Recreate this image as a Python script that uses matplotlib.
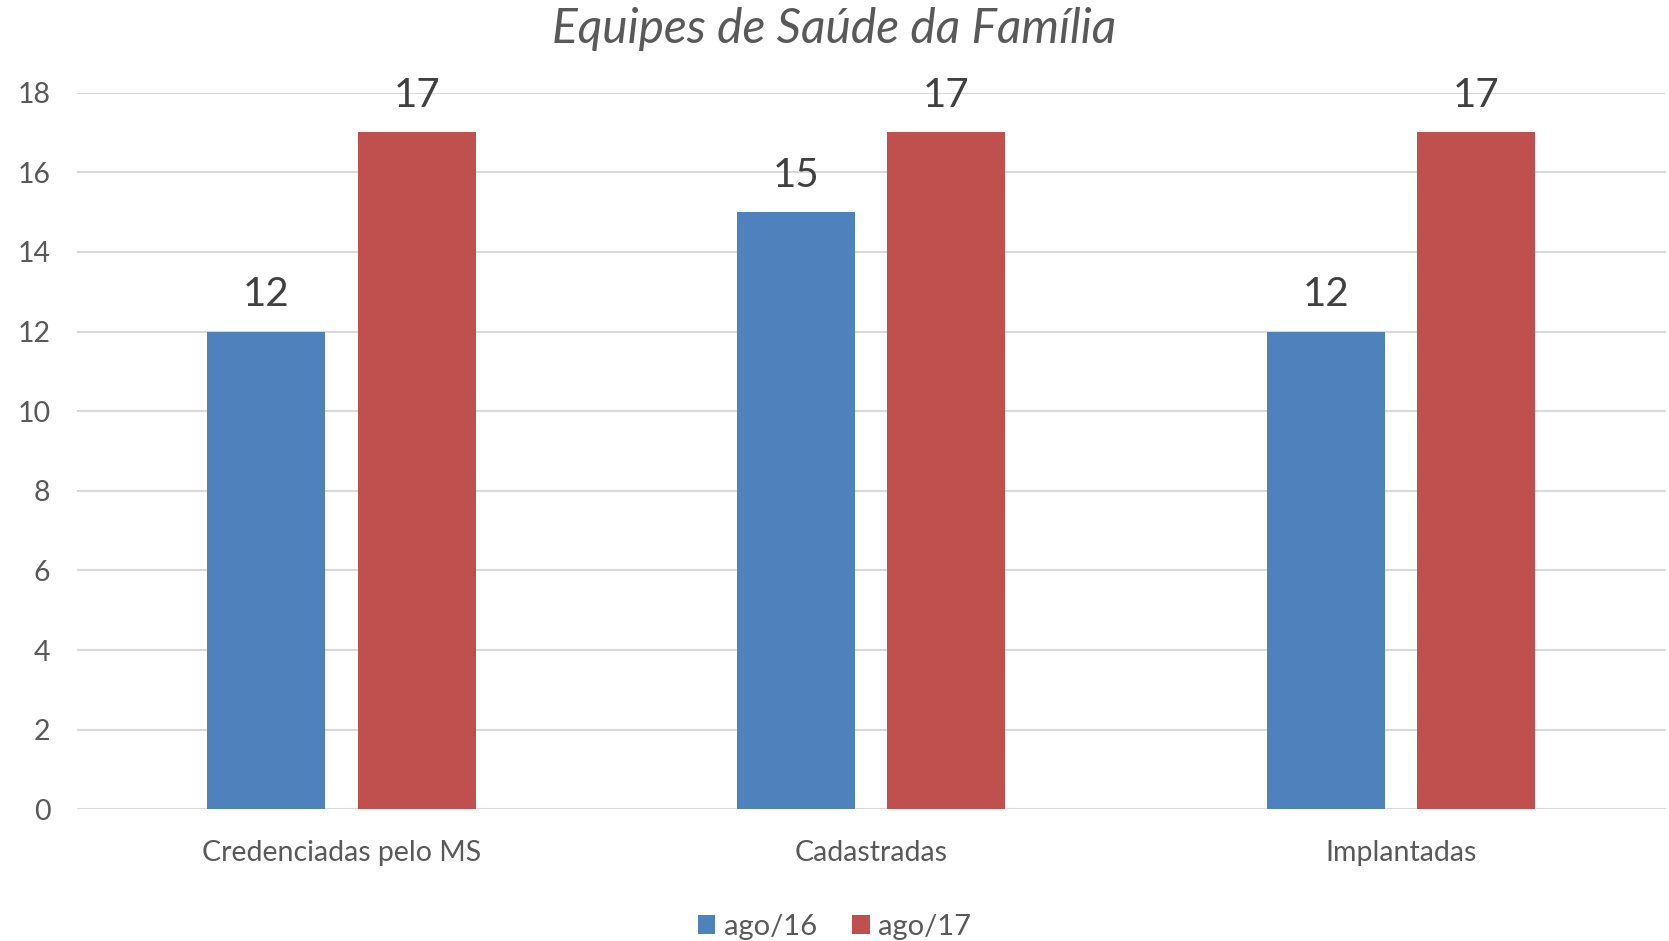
import numpy as np
import matplotlib.pyplot as plt

categorias = ['Credenciadas pelo MS', 'Cadastradas', 'Implantadas']
ago16 = [12, 15, 12]
ago17 = [17, 17, 17]
series = ['ago/16', 'ago/17']
yticks = [0, 2, 4, 6, 8, 10, 12, 14, 16, 18]

plt.rcParams['font.family'] = ['Lato', 'DejaVu Sans']
texto = '#595959'

fig = plt.figure(figsize=(16.69, 9.41), dpi=100)
ax = fig.add_axes([0.046, 0.140, 0.952, 0.7615])

x = np.arange(len(categorias))
w = 0.223
off = 0.142
b1 = ax.bar(x - off, ago16, w, color='#4F81BD', label=series[0], zorder=3)
b2 = ax.bar(x + off, ago17, w, color='#C0504D', label=series[1], zorder=3)

for barras in (b1, b2):
    for b in barras:
        ax.annotate(str(int(b.get_height())), (b.get_x() + b.get_width() / 2, b.get_height()),
                    xytext=(0, 13), textcoords='offset points', ha='center', va='bottom',
                    fontsize=29, color='#404040')

ax.set_xlim(-0.5, 2.5)
ax.set_ylim(0, 18)
ax.set_yticks(yticks)
ax.set_xticks(x)
ax.set_xticklabels(categorias)
ax.tick_params(axis='both', length=0, labelsize=20.5, labelcolor=texto)
ax.tick_params(axis='x', pad=22)
ax.tick_params(axis='y', pad=19)
ax.yaxis.grid(True, color='#D9D9D9', linewidth=1.5, zorder=0)
for s in ax.spines.values():
    s.set_visible(False)

fig.text(0.5, 0.969, 'Equipes de Saúde da Família', fontsize=34.5, style='italic',
         color=texto, ha='center', va='center')

fig.legend(loc='center', bbox_to_anchor=(0.5, 0.015), ncol=2, frameon=False,
           fontsize=21, labelcolor=texto, handlelength=0.6, handleheight=0.6,
           handletextpad=0.3, columnspacing=1.2)

fig.savefig('out.png', dpi=100)
